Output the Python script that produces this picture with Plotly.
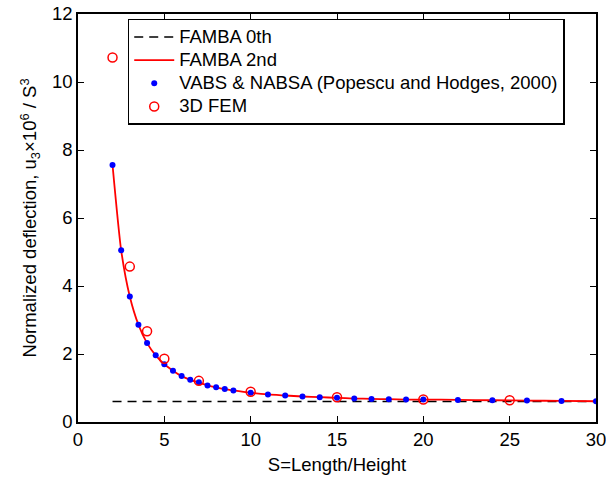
import plotly.graph_objects as go

# Data
s_vabs = [2, 2.5, 3, 3.5, 4, 4.5, 5, 5.5, 6, 6.5, 7, 7.5, 8, 8.5, 9, 10, 11, 12, 13, 14,
          15, 16, 17, 18, 19, 20, 22, 24, 26, 28, 30]
u_vabs = [7.56, 5.05, 3.69, 2.86, 2.32, 1.96, 1.70, 1.51, 1.35, 1.24, 1.17, 1.07, 1.02, 0.97, 0.93,
          0.86, 0.81, 0.78, 0.75, 0.73, 0.71, 0.69, 0.68, 0.67, 0.66, 0.66, 0.65, 0.64, 0.63, 0.62, 0.61]

s_famba2 = [2, 2.5, 3, 3.5, 4, 4.5, 5, 5.5, 6, 6.5, 7, 7.5, 8, 8.5, 9, 10, 11, 12, 13, 14,
            15, 16, 17, 18, 19, 20, 22, 24, 26, 28, 30]
u_famba2 = [7.56, 5.05, 3.69, 2.86, 2.32, 1.96, 1.70, 1.51, 1.35, 1.24, 1.16, 1.08, 1.02, 0.97, 0.93,
            0.86, 0.81, 0.78, 0.75, 0.73, 0.71, 0.69, 0.68, 0.67, 0.66, 0.66, 0.65, 0.64, 0.63, 0.62, 0.61]

s_famba0 = [2, 30]
u_famba0 = [0.6, 0.6]

s_fem = [2, 3, 4, 5, 7, 10, 15, 20, 25]
u_fem = [10.72, 4.57, 2.67, 1.86, 1.21, 0.89, 0.73, 0.66, 0.64]

series_names = ["FAMBA 0th", "FAMBA 2nd", "VABS & NABSA (Popescu and Hodges, 2000)", "3D FEM"]

x_ticks = [0, 5, 10, 15, 20, 25, 30]
y_ticks = [0, 2, 4, 6, 8, 10, 12]

FONT = "Liberation Sans, Arial, Helvetica, sans-serif"
FS = 18.5


def lname(t):
    return '<span style="font-size:%spx">%s</span>' % (FS, t.replace("&", "&amp;"))


fig = go.Figure()
fig.add_trace(go.Scatter(x=s_famba0, y=u_famba0, mode="lines", name=lname(series_names[0]),
                         line=dict(color="black", width=1.5, dash="9px,6px")))
fig.add_trace(go.Scatter(x=s_famba2, y=u_famba2, mode="lines", name=lname(series_names[1]),
                         line=dict(color="red", width=1.8, shape="spline", smoothing=0.6)))
fig.add_trace(go.Scatter(x=s_vabs, y=u_vabs, mode="markers", name=lname(series_names[2]),
                         marker=dict(color="blue", size=6, line=dict(width=0))))
fig.add_trace(go.Scatter(x=s_fem, y=u_fem, mode="markers", name=lname(series_names[3]),
                         marker=dict(symbol="circle-open", color="red", size=9,
                                     line=dict(width=1.5, color="red"))))

axis_common = dict(showgrid=False, zeroline=False, showline=True, linecolor="black", linewidth=1.5,
                   mirror="allticks", ticks="inside", ticklen=6, tickwidth=1.2, tickcolor="black",
                   tickfont=dict(family=FONT, size=FS, color="black"), automargin=False,
                   ticklabeloverflow="allow")

fig.update_layout(
    width=606, height=480,
    margin=dict(l=78, r=10, t=14, b=58, autoexpand=False),
    paper_bgcolor="white", plot_bgcolor="white",
    font=dict(family=FONT, size=FS, color="black"),
    xaxis=dict(range=[0, 30], tickvals=x_ticks,
               title=dict(text="S=Length/Height", font=dict(family=FONT, size=FS), standoff=9),
               **axis_common),
    yaxis=dict(range=[0, 12], tickvals=y_ticks,
               title=dict(text="Normalized deflection, u<sub>3</sub>×10<sup>6</sup> / S<sup>3</sup>",
                          font=dict(family=FONT, size=FS), standoff=10),
               **axis_common),
    legend=dict(x=0.096, y=0.988, xanchor="left", yanchor="top",
                bgcolor="white", bordercolor="black", borderwidth=1.5,
                font=dict(family=FONT, size=15.5, color="black"),
                tracegroupgap=0, itemwidth=40),
    showlegend=True,
)

fig.write_html("out.html")
